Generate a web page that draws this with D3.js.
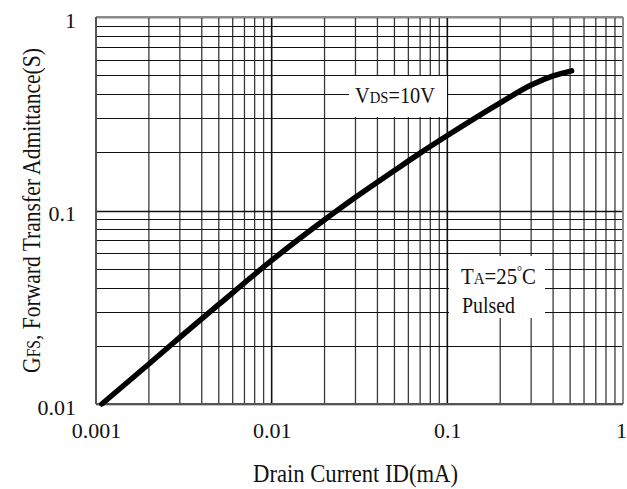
<!DOCTYPE html>
<html>
<head>
<meta charset="utf-8">
<script src="https://cdn.jsdelivr.net/npm/d3@7"></script>
<style>
  html, body { margin: 0; padding: 0; background: #fff; }
  svg { display: block; }
  text { font-family: "Liberation Serif", "DejaVu Serif", serif; fill: #111; }
</style>
</head>
<body>
<svg id="chart" width="627" height="489"></svg>
<script>
// Forward transfer admittance vs. drain current (VDS = 10 V, TA = 25 °C, pulsed)
const currentMA   = [0.00108, 0.002, 0.003, 0.005, 0.01, 0.02, 0.03, 0.05, 0.07, 0.1, 0.2, 0.3, 0.4, 0.51];
const admittanceS = [0.01, 0.0161, 0.0221, 0.0327, 0.0552, 0.0895, 0.117, 0.161, 0.198, 0.244, 0.36, 0.445, 0.496, 0.527];

const xTickValues = [0.001, 0.01, 0.1, 1];
const xTickLabels = ["0.001", "0.01", "0.1", "1"];
const yTickValues = [0.01, 0.1, 1];
const yTickLabels = ["0.01", "0.1", "1"];

const W = 627, H = 489;
const plot = { left: 96, right: 623, top: 17, bottom: 404 };

const svg = d3.select("#chart");
svg.append("rect").attr("width", W).attr("height", H).attr("fill", "#fff");

const x = d3.scaleLog().domain([0.001, 1]).range([plot.left, plot.right]);
const y = d3.scaleLog().domain([0.01, 1]).range([plot.bottom, plot.top]);

// 1..9 sub-divisions for every decade of a log domain
function logGrid(domain) {
  const vals = [];
  const lo = Math.round(Math.log10(domain[0])), hi = Math.round(Math.log10(domain[1]));
  for (let e = lo; e < hi; e++) {
    for (let m = 1; m <= 9; m++) vals.push(m * Math.pow(10, e));
  }
  vals.push(Math.pow(10, hi));
  return vals;
}
const isDecade = v => Math.abs(Math.log10(v) - Math.round(Math.log10(v))) < 1e-9;

const grid = svg.append("g");

// vertical grid
grid.selectAll("line.v").data(logGrid(x.domain())).join("line")
  .attr("x1", d => x(d)).attr("x2", d => x(d))
  .attr("y1", plot.top).attr("y2", plot.bottom)
  .attr("stroke", d => isDecade(d) ? "#111" : "#3a3a3a")
  .attr("stroke-width", d => isDecade(d) ? 1.6 : 1.3);

// horizontal grid
grid.selectAll("line.h").data(logGrid(y.domain())).join("line")
  .attr("y1", d => Math.round(y(d)) + 0.5).attr("y2", d => Math.round(y(d)) + 0.5)
  .attr("x1", plot.left).attr("x2", plot.right)
  .attr("stroke", "#111")
  .attr("stroke-width", d => isDecade(d) ? 1.6 : 1.1);

// plot frame
const frame = svg.append("g").attr("fill", "none");
frame.append("line").attr("x1", plot.left).attr("x2", plot.right).attr("y1", plot.top).attr("y2", plot.top)
  .attr("stroke", "#8a8a8a").attr("stroke-width", 2);
frame.append("line").attr("x1", plot.right).attr("x2", plot.right).attr("y1", plot.top).attr("y2", plot.bottom)
  .attr("stroke", "#8a8a8a").attr("stroke-width", 2);
frame.append("line").attr("x1", plot.left).attr("x2", plot.right).attr("y1", plot.bottom).attr("y2", plot.bottom)
  .attr("stroke", "#555").attr("stroke-width", 2);
frame.append("line").attr("x1", plot.left).attr("x2", plot.left).attr("y1", plot.top).attr("y2", plot.bottom)
  .attr("stroke", "#555").attr("stroke-width", 2);

// axes (labels only; the grid carries the lines)
const xAxis = d3.axisBottom(x).tickValues(xTickValues)
  .tickFormat((d, i) => xTickLabels[i]).tickSize(0).tickPadding(0);
const gx = svg.append("g").attr("transform", `translate(0,${plot.bottom})`).call(xAxis);
gx.select(".domain").remove();
gx.selectAll("text").attr("dy", null).attr("y", 34)
  .attr("x", d => d === 1 ? -2 : 0)
  .style("font-family", "Liberation Serif").style("font-size", "22px").attr("fill", "#111");

const yAxis = d3.axisLeft(y).tickValues(yTickValues)
  .tickFormat((d, i) => yTickLabels[i]).tickSize(0).tickPadding(0);
const gy = svg.append("g").attr("transform", `translate(${plot.left},0)`).call(yAxis);
gy.select(".domain").remove();
gy.selectAll("text").attr("x", -20).attr("dy", "0.38em").attr("y", 2)
  .style("font-family", "Liberation Serif").style("font-size", "22px").attr("fill", "#111");

// curve
const pts = currentMA.map((c, i) => [c, admittanceS[i]]);
svg.append("path")
  .datum(pts)
  .attr("fill", "none")
  .attr("stroke", "#000")
  .attr("stroke-width", 5.5)
  .attr("stroke-linecap", "round")
  .attr("stroke-linejoin", "round")
  .attr("d", d3.line().x(d => x(d[0])).y(d => y(d[1])).curve(d3.curveMonotoneX));

// text with mixed-size runs, squeezed horizontally to a given width
function richText(parts, opts) {
  const t = svg.append("text")
    .attr("text-anchor", opts.anchor || "start")
    .style("font-size", opts.size + "px");
  parts.forEach(p => {
    const s = t.append("tspan").text(p.t);
    if (p.scale) s.style("font-size", (opts.size * p.scale) + "px");
    if (p.dy) s.attr("dy", p.dy);
  });
  const natural = t.node().getComputedTextLength();
  const sx = opts.width ? opts.width / natural : 1;
  t.attr("transform", `translate(${opts.x},${opts.y}) rotate(${opts.rotate || 0}) scale(${sx},1)`);
  return t;
}

// annotation boxes
svg.append("rect").attr("x", 349).attr("y", 76).attr("width", 98).attr("height", 41).attr("fill", "#fff");
svg.append("rect").attr("x", 449).attr("y", 256).attr("width", 96).attr("height", 62).attr("fill", "#fff");

richText([{ t: "V" }, { t: "DS", scale: 0.72 }, { t: "=10V" }],
  { x: 355, y: 103, size: 24, width: 80 });

richText([{ t: "T" }, { t: "A", scale: 0.72 }, { t: "=25" }, { t: "°", scale: 0.6, dy: -8 }, { t: "C", dy: 8 }],
  { x: 461, y: 284, size: 24, width: 75 });

richText([{ t: "Pulsed" }], { x: 462, y: 313, size: 24, width: 53 });

// axis titles
richText([{ t: "Drain Current ID(mA)" }],
  { x: 355.5, y: 482, size: 25, width: 205, anchor: "middle" });

richText([{ t: "G" }, { t: "FS", scale: 0.72 }, { t: ", Forward Transfer Admittance(S)" }],
  { x: 40, y: 210.5, size: 25, width: 325, anchor: "middle", rotate: -90 });
</script>
</body>
</html>
